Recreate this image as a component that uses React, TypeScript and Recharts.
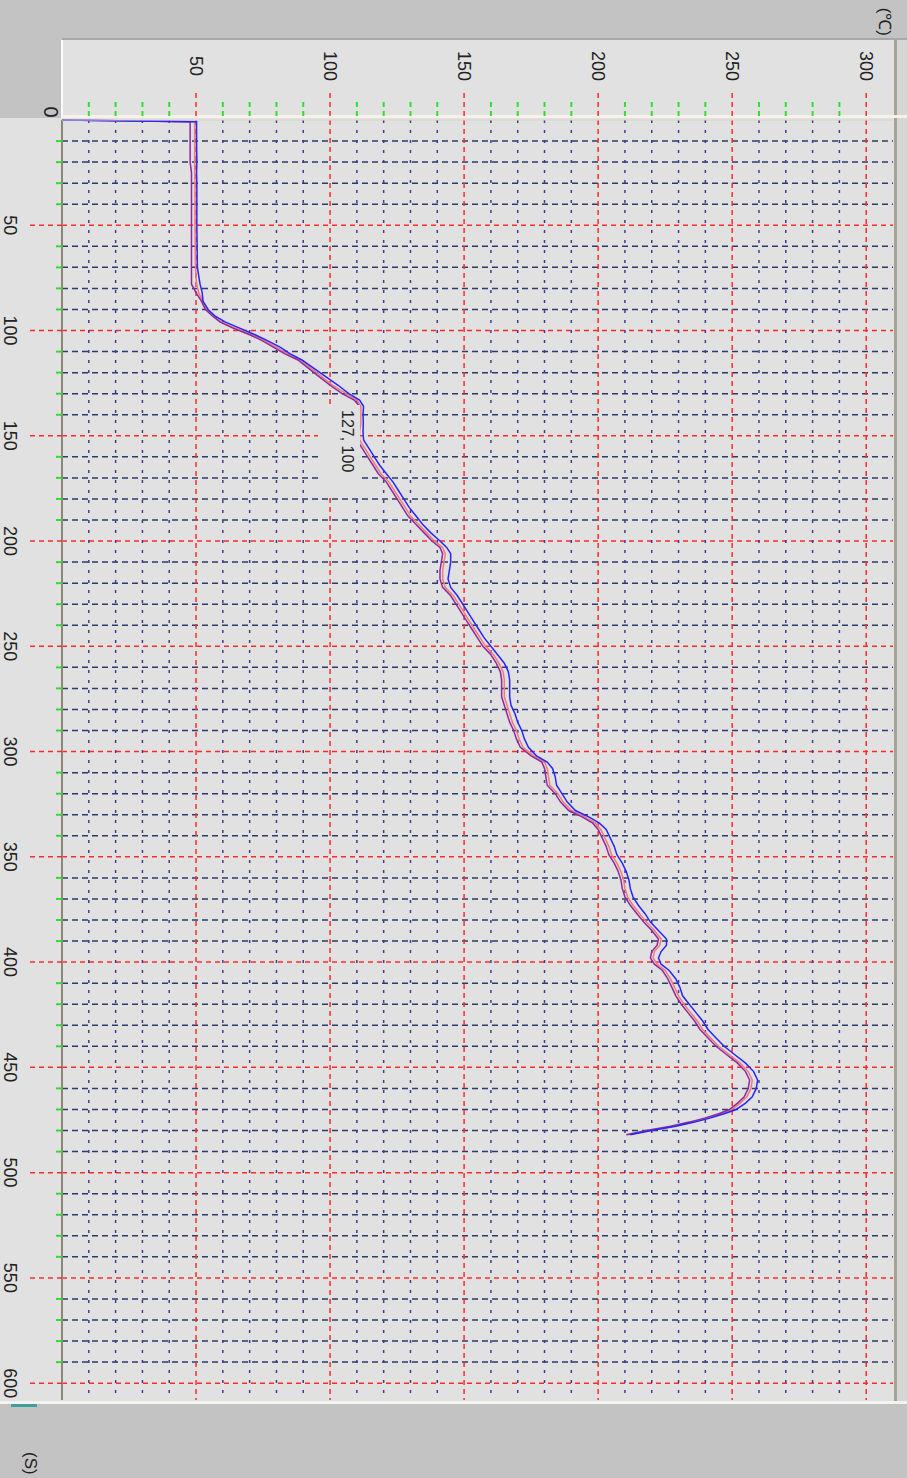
import { LineChart, Line, XAxis, YAxis, ReferenceLine } from 'recharts';

// time in seconds, temperature in deg C
const times = [
    0, 0.8, 10, 20, 25, 30, 40, 50, 60, 70,
    78, 82, 86, 90, 93, 96, 99, 102, 105, 108,
    111, 114, 118, 122, 126, 130, 133, 136, 140, 144,
    148, 152, 156, 160, 164, 168, 172, 176, 180, 184,
    188, 192, 196, 200, 203, 206, 210, 214, 218, 222,
    226, 230, 234, 238, 242, 246, 250, 254, 258, 262,
    266, 270, 274, 278, 282, 286, 290, 294, 298, 302,
    305, 308, 312, 316, 320, 324, 328, 331, 334, 337,
    341, 345, 349, 353, 357, 361, 365, 369, 373, 377,
    381, 385, 389, 392, 395, 398, 401, 404, 408, 412,
    416, 420, 424, 428, 432, 436, 440, 444, 448, 452,
    456, 460, 464, 467, 470, 472, 474, 476, 478, 480, 482,
];
const pinkTemps = [
    0, 49.5, 49.5, 49.5, 49.5, 49.6, 49.6, 49.6, 49.7, 49.8,
    50.2, 51, 52.5, 54, 56.5, 59.5, 65, 71, 76, 80,
    84, 89, 93, 97, 101, 106, 110, 111.5, 111.5, 111.5,
    111, 111, 113, 115, 117, 119, 122, 124, 126, 128,
    130, 133, 136, 139, 142, 143, 142.5, 142, 142, 143,
    146, 148, 150, 152, 154, 156, 158, 161, 163, 164.5,
    165, 165, 165, 166, 167, 168, 169.5, 170.5, 172, 176,
    180, 181, 181.5, 182, 185, 187, 190, 195, 199, 201,
    202.5, 204, 205, 207, 208.5, 209.5, 210, 211, 213, 215.5,
    218, 221, 223.5, 223, 221, 220.5, 222, 225, 227, 228.5,
    230, 232, 234.5, 237, 239, 242, 245, 249, 253, 256,
    257.5, 257, 255.5, 253, 250, 246, 241, 235, 228, 219, 211,
];
const blueTemps = [
    0, 50.2, 50.2, 50.3, 50.2, 50.3, 50.3, 50.3, 50.4, 50.5,
    51.5, 52.3, 52.6, 54.5, 57, 61, 66.5, 72, 77, 81.5,
    85, 89.5, 94, 98.5, 103, 107, 111, 112.5, 112.3, 112.4,
    112.3, 112.5, 114.5, 116.5, 118.5, 121, 123.5, 125.5, 127.5, 129.5,
    132, 134.5, 137.5, 141, 143.5, 145, 145, 144.5, 144, 145,
    147.5, 149.5, 151.5, 153.5, 155.5, 157.5, 160, 162.5, 165, 166.5,
    167, 167, 167, 167.5, 169, 170, 171.5, 172.5, 174, 177,
    181, 183, 184, 184.5, 186.5, 188.5, 191.5, 196.5, 200.5, 203,
    204.5, 206, 207, 209, 210.5, 211.5, 212, 213, 215, 217.5,
    219.5, 222.5, 225.5, 225.5, 223.5, 222.5, 223.5, 226.5, 229, 230.5,
    231.5, 234, 236.5, 239, 241, 244, 247, 251, 255, 258,
    259.5, 259, 257.5, 255, 251.5, 247, 242, 236, 229, 220, 212,
];
const purpleTemps = [
    0, 47.8, 47.8, 47.8, 48.3, 48.3, 48.3, 48.3, 48.3, 48.3,
    48.3, 50, 52, 53.5, 56, 59, 64, 70, 75, 79,
    83, 88, 92, 96, 100, 104.5, 109, 111, 110.5, 110.5,
    110, 110, 112, 114, 116, 118, 121, 123, 125, 127,
    129, 132, 135, 138, 141, 142, 141.5, 141, 141, 142,
    145, 147, 149, 151, 153, 155, 157, 160, 162, 163.5,
    164, 164, 164, 165, 166, 167, 168.5, 169.5, 171, 175,
    179, 180, 180.5, 181, 184, 186, 189, 194, 198, 200,
    201.5, 203, 204, 206, 207.5, 208.5, 209, 210, 212, 214.5,
    217, 220, 222.5, 222, 220, 219.5, 221, 224, 226, 227.5,
    229, 231, 233.5, 236, 238, 241, 244, 248, 252, 255,
    256.5, 256, 254.5, 252, 249, 245, 240, 234, 227, 218, 210.5,
];

const timeTicks = [
    0, 10, 20, 30, 40, 50, 60, 70, 80, 90, 100, 110, 120, 130, 140, 150,
    160, 170, 180, 190, 200, 210, 220, 230, 240, 250, 260, 270, 280, 290, 300,
    310, 320, 330, 340, 350, 360, 370, 380, 390, 400, 410, 420, 430, 440, 450,
    460, 470, 480, 490, 500, 510, 520, 530, 540, 550, 560, 570, 580, 590, 600,
];
const tempTicks = [
    0, 10, 20, 30, 40, 50, 60, 70, 80, 90, 100, 110, 120, 130, 140, 150,
    160, 170, 180, 190, 200, 210, 220, 230, 240, 250, 260, 270, 280, 290, 300,
];

const data = times.map((t, i) => ({
    t,
    pink: pinkTemps[i],
    purple: purpleTemps[i],
    blue: blueTemps[i],
}));

const FONT = 'Liberation Sans, Arial, sans-serif';
const RED = '#ff2b2b';
const GREEN = '#2ee02e';

const TimeTick = (props: any) => {
    const { x, y, payload } = props;
    const v = payload.value;
    if (v === 0) {
        return (
            <text x={x - 8} y={y + 11} textAnchor="middle" dominantBaseline="central"
                fontSize={20} fontFamily={FONT} fill="#222">0</text>
        );
    }
    const major = v % 50 === 0;
    return (
        <g>
            {major
                ? <line x1={x} x2={x} y1={y} y2={y + 33} stroke={RED} strokeWidth={1.5} strokeDasharray="5 4" />
                : <line x1={x} x2={x} y1={y} y2={y + 6} stroke={GREEN} strokeWidth={2} />}
            {major && (
                <text x={x} y={y + 52} textAnchor="middle" dominantBaseline="central"
                    fontSize={18} fontFamily={FONT} fill="#222">{v}</text>
            )}
        </g>
    );
};

const TempTick = (props: any) => {
    const { x, y, payload } = props;
    const v = payload.value;
    if (v === 0) return <g />;
    const major = v % 50 === 0;
    return (
        <g>
            {major
                ? <line x1={x - 27} x2={x - 4} y1={y} y2={y} stroke={RED} strokeWidth={1.5} strokeDasharray="5 4" />
                : <line x1={x - 18} x2={x - 4} y1={y} y2={y} stroke={GREEN} strokeWidth={2} strokeDasharray="5 4" />}
            {major && (
                <text x={x - 54} y={y} textAnchor="middle" dominantBaseline="central"
                    fontSize={18} fontFamily={FONT} fill="#222">{v}</text>
            )}
        </g>
    );
};

const box = (left: number, top: number, width: number, height: number, background: string) => (
    <div style={{ position: 'absolute', left, top, width, height, background }} />
);

export default function App() {
    return (
        <div style={{ position: 'absolute', left: 0, top: 0, width: 907, height: 1478, overflow: 'hidden', background: '#c3c3c3' }}>
            <div style={{
                position: 'absolute', left: 0, top: 0, width: 1478, height: 907,
                transformOrigin: '0 0', transform: 'translate(907px, 0) rotate(90deg)',
            }}>
                {box(40, 0, 1362, 845, '#e1e1e1')}
                {box(118, 845, 1284, 62, '#e1e1e1')}
                {box(40, 0, 1362, 10, '#d6d6d6')}
                {box(40, 10, 1362, 3, '#a6a296')}
                {box(38, 0, 2, 845, '#a8a8a8')}
                {box(40, 844, 78, 2, '#fafafa')}
                {box(115, 0, 3, 845, '#f6f3e6')}
                {box(1401, 0, 3, 907, '#f4f4ee')}
                {box(1404, 870, 3, 26, '#3f9e9e')}
                <div style={{ position: 'absolute', left: 0, top: 0 }}>
                    <LineChart width={1478} height={907} data={data}
                        margin={{ top: 14, right: 78, bottom: 0, left: 0 }}>
                        <XAxis dataKey="t" type="number" domain={[0, 608]} ticks={timeTicks}
                            interval={0} height={62} tickSize={0} tickMargin={0} tickLine={false}
                            axisLine={{ stroke: '#8c8677', strokeWidth: 2 }} tick={<TimeTick />} />
                        <YAxis type="number" domain={[0, 310]} ticks={tempTicks}
                            interval={0} width={120} tickSize={0} tickMargin={0} tickLine={false}
                            axisLine={{ stroke: '#d8d4c8', strokeWidth: 1 }} tick={<TempTick />} />
                        {timeTicks.filter((t) => t > 0).map((t) => (
                            <ReferenceLine key={'t' + t} x={t}
                                stroke={t % 50 === 0 ? RED : '#2d3b6c'}
                                strokeWidth={1.5}
                                strokeDasharray={t % 50 === 0 ? '5 4' : '6 4'} />
                        ))}
                        {tempTicks.filter((v) => v > 0).map((v) => (
                            <ReferenceLine key={'v' + v} y={v}
                                stroke={v % 50 === 0 ? RED : '#45388f'}
                                strokeWidth={1.5}
                                strokeDasharray={v % 50 === 0 ? '5 4' : '3 7'} />
                        ))}
                        <Line dataKey="pink" stroke="#f27a7a" strokeWidth={1.5} dot={false} isAnimationActive={false} />
                        <Line dataKey="purple" stroke="#8e2a9c" strokeWidth={1.5} dot={false} isAnimationActive={false} />
                        <Line dataKey="blue" stroke="#2626ff" strokeWidth={1.5} dot={false} isAnimationActive={false} />
                    </LineChart>
                </div>
                <div style={{
                    position: 'absolute', left: 405, top: 547, width: 90, height: 42,
                    background: '#e1e1e1', fontFamily: FONT, fontSize: 16, color: '#222',
                    lineHeight: '16px', paddingLeft: 5, paddingTop: 5, boxSizing: 'border-box',
                }}>127, 100</div>
                <div style={{
                    position: 'absolute', right: 1442, top: 10, fontFamily: FONT, fontSize: 17,
                    color: '#222', whiteSpace: 'nowrap',
                }}>(℃)</div>
                <div style={{
                    position: 'absolute', left: 1452, top: 867, fontFamily: FONT, fontSize: 17,
                    color: '#222', whiteSpace: 'nowrap',
                }}>(S)</div>
            </div>
        </div>
    );
}
